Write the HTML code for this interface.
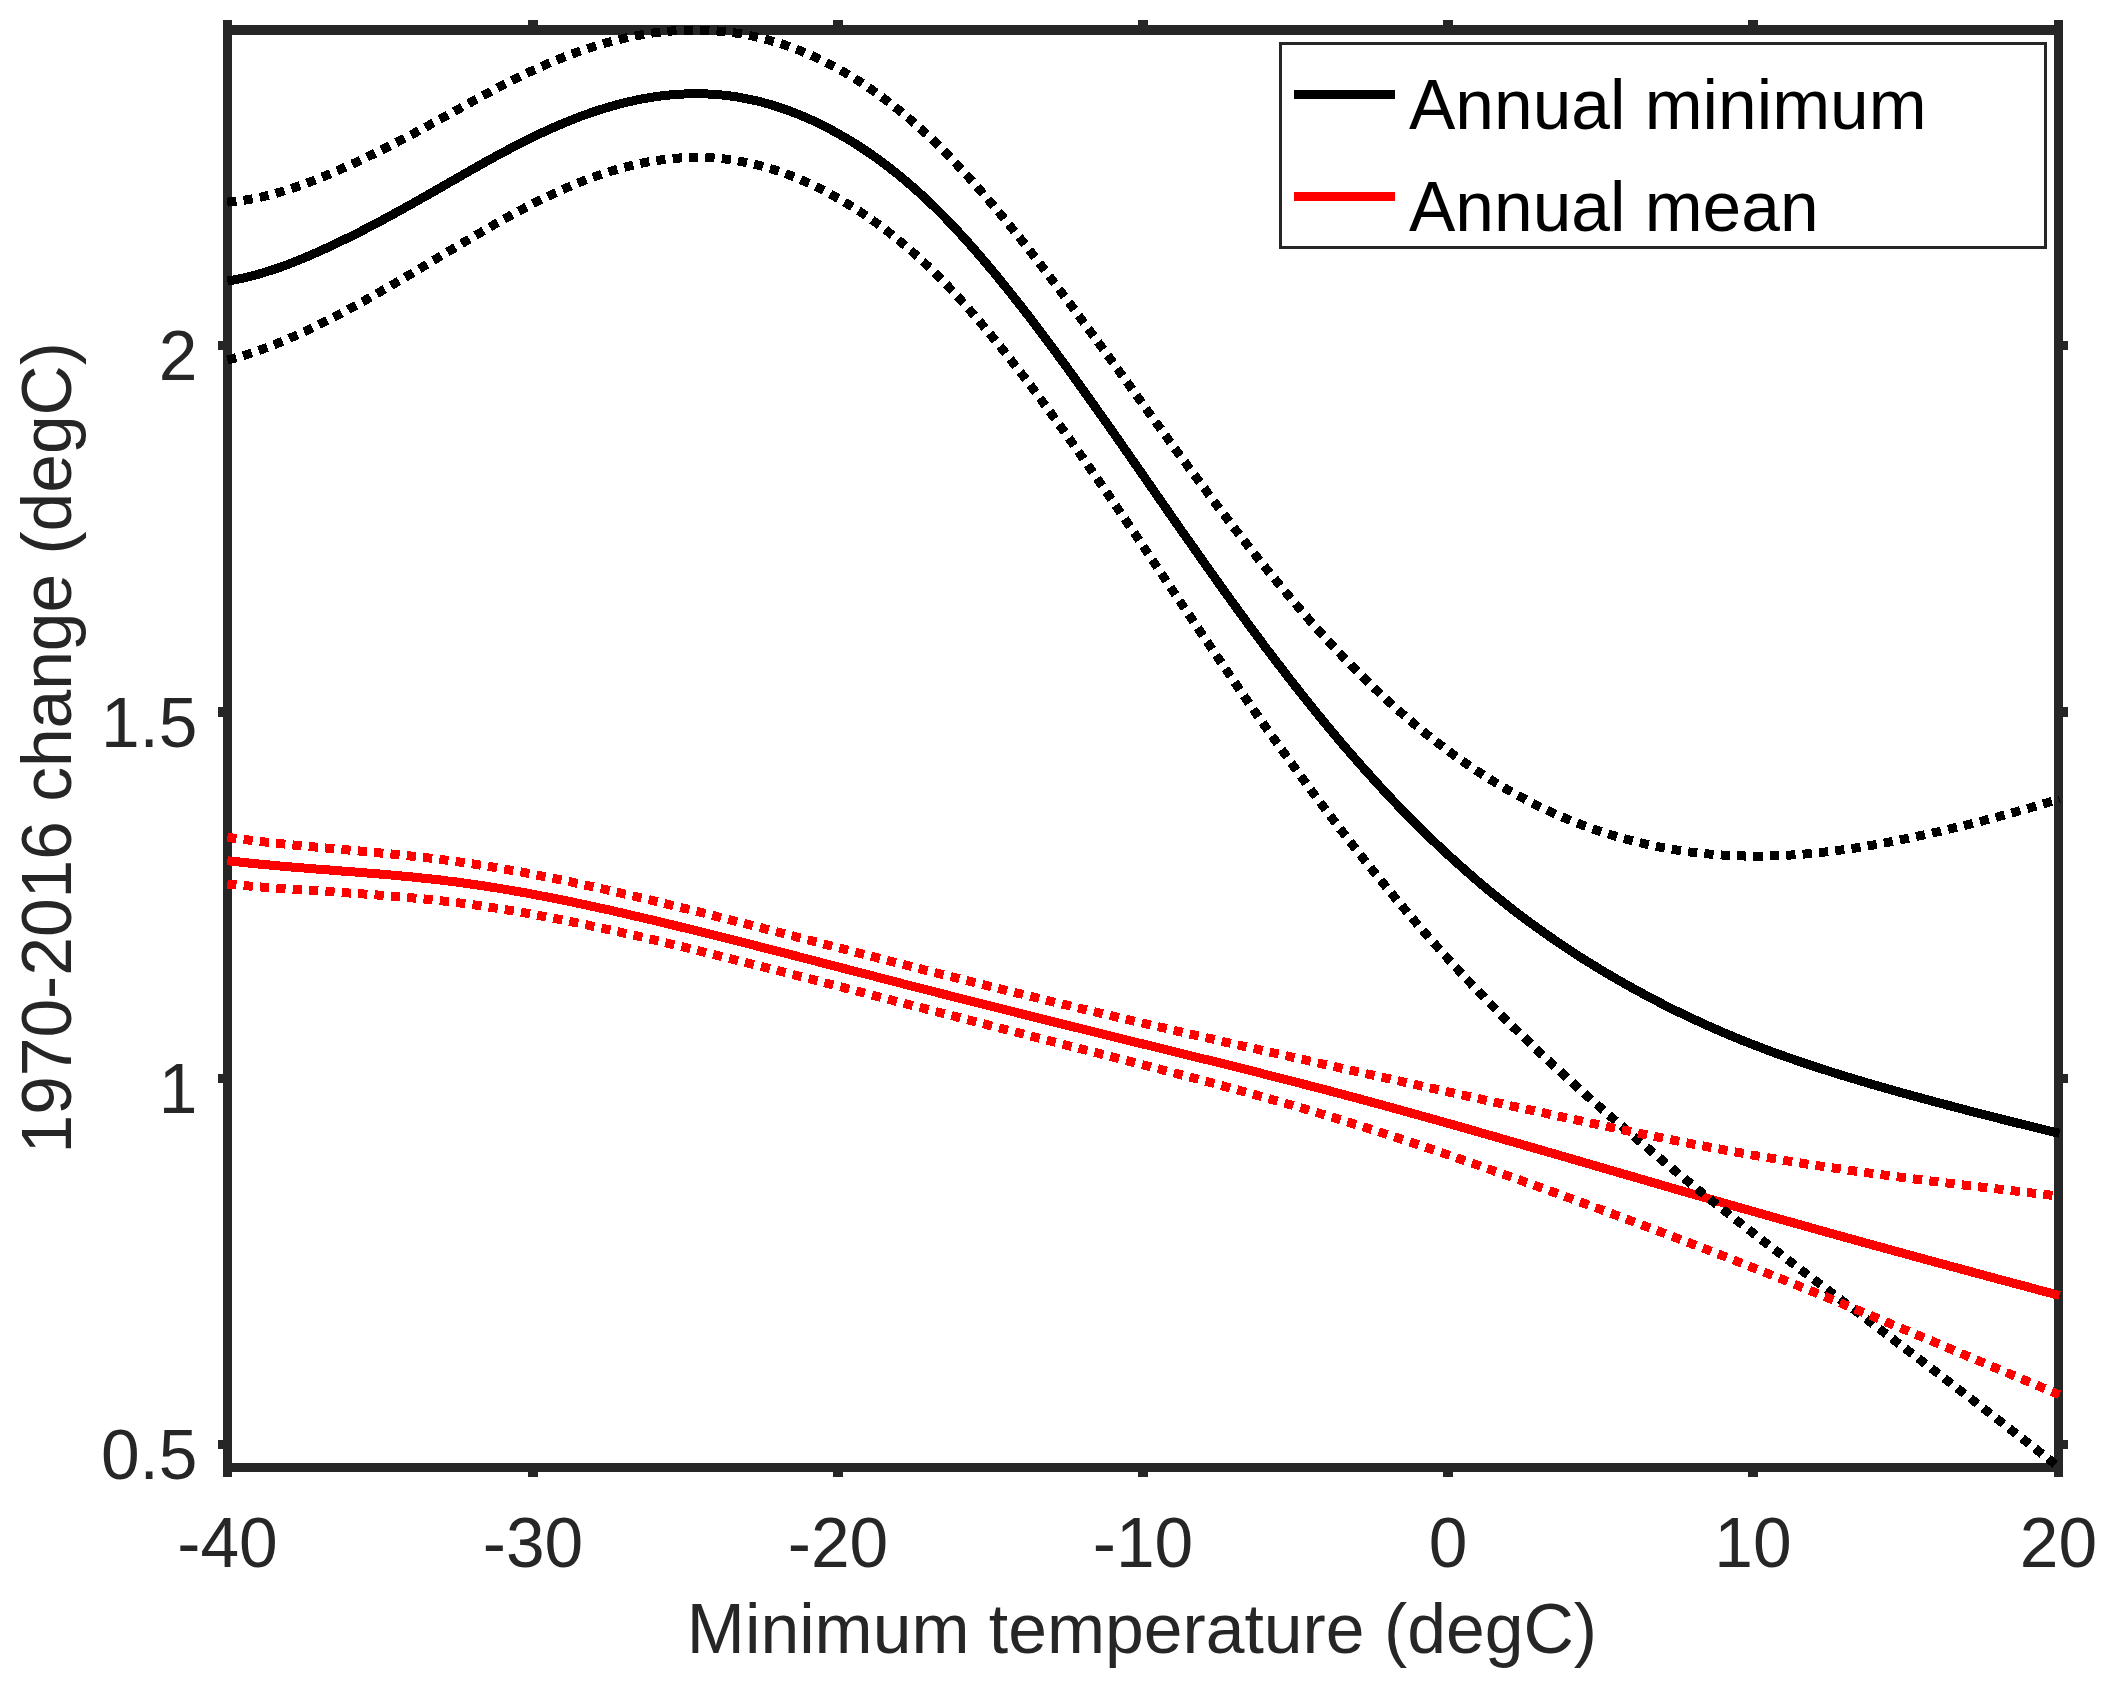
<!DOCTYPE html>
<html lang="en">
<head>
<meta charset="utf-8">
<title>1970-2016 change vs minimum temperature</title>
<style>
  html, body { margin: 0; padding: 0; background: #fff; }
  body { width: 2109px; height: 1688px; overflow: hidden; }
  svg { display: block; }
  text { font-family: "Liberation Sans", sans-serif; font-size: 69.5px; fill: #262626; }
  .legend text { fill: #000; }
</style>
</head>
<body>
<svg width="2109" height="1688" viewBox="0 0 2109 1688">
  <rect x="0" y="0" width="2109" height="1688" fill="#fff"/>

  <!-- axes box and tick marks -->
  <g fill="#262626" shape-rendering="crispEdges">
    <rect x="223" y="25" width="1840" height="9.6"/>
    <rect x="223" y="1463" width="1840" height="9"/>
    <rect x="223" y="25" width="9" height="1447"/>
    <rect x="2054" y="25" width="9" height="1447"/>
    <rect x="223" y="20" width="9" height="6"/><rect x="223" y="1471" width="9" height="6"/><rect x="528" y="20" width="10" height="6"/><rect x="528" y="1471" width="10" height="6"/><rect x="833" y="20" width="10" height="6"/><rect x="833" y="1471" width="10" height="6"/><rect x="1138" y="20" width="10" height="6"/><rect x="1138" y="1471" width="10" height="6"/><rect x="1443" y="20" width="10" height="6"/><rect x="1443" y="1471" width="10" height="6"/><rect x="1748" y="20" width="10" height="6"/><rect x="1748" y="1471" width="10" height="6"/><rect x="2054" y="20" width="9" height="6"/><rect x="2054" y="1471" width="9" height="6"/><rect x="218" y="341" width="6" height="9"/><rect x="2062" y="341" width="6" height="9"/><rect x="218" y="707" width="6" height="10"/><rect x="2062" y="707" width="6" height="10"/><rect x="218" y="1074" width="6" height="9"/><rect x="2062" y="1074" width="6" height="9"/><rect x="218" y="1440" width="6" height="9"/><rect x="2062" y="1440" width="6" height="9"/>
  </g>

  <!-- data curves -->
  <g fill="none" stroke-width="9" stroke-linecap="butt" stroke-linejoin="round" shape-rendering="crispEdges">
    <path d="M227.3 281.1L233.3 280.1L239.3 278.9L245.3 277.5L251.3 276.1L257.3 274.5L263.3 272.7L269.4 270.8L275.4 268.9L281.4 266.8L287.4 264.6L293.4 262.3L299.4 259.9L305.4 257.4L311.4 254.8L317.4 252.2L323.4 249.5L329.4 246.7L335.4 243.9L341.4 241.0L347.4 238.1L353.5 235.1L359.5 232.1L365.5 229.0L371.5 225.8L377.5 222.7L383.5 219.5L389.5 216.2L395.5 213.0L401.5 209.7L407.5 206.3L413.5 203.0L419.5 199.6L425.5 196.2L431.5 192.8L437.6 189.3L443.6 185.9L449.6 182.4L455.6 179.0L461.6 175.5L467.6 172.1L473.6 168.7L479.6 165.3L485.6 161.9L491.6 158.6L497.6 155.3L503.6 152.1L509.6 148.9L515.6 145.7L521.7 142.6L527.7 139.6L533.7 136.7L539.7 133.8L545.7 131.0L551.7 128.3L557.7 125.7L563.7 123.1L569.7 120.7L575.7 118.3L581.7 116.0L587.7 113.9L593.7 111.8L599.7 109.8L605.8 108.0L611.8 106.2L617.8 104.5L623.8 103.0L629.8 101.5L635.8 100.2L641.8 99.0L647.8 97.9L653.8 97.0L659.8 96.1L665.8 95.4L671.8 94.8L677.8 94.4L683.8 94.0L689.9 93.8L695.9 93.7L701.9 93.8L707.9 94.0L713.9 94.3L719.9 94.8L725.9 95.4L731.9 96.2L737.9 97.1L743.9 98.2L749.9 99.4L755.9 100.7L761.9 102.2L767.9 103.9L774.0 105.6L780.0 107.6L786.0 109.6L792.0 111.9L798.0 114.2L804.0 116.7L810.0 119.3L816.0 122.1L822.0 125.0L828.0 128.1L834.0 131.3L840.0 134.7L846.0 138.1L852.1 141.8L858.1 145.5L864.1 149.5L870.1 153.5L876.1 157.8L882.1 162.2L888.1 166.7L894.1 171.4L900.1 176.2L906.1 181.2L912.1 186.4L918.1 191.7L924.1 197.2L930.1 202.9L936.2 208.7L942.2 214.7L948.2 220.9L954.2 227.2L960.2 233.7L966.2 240.3L972.2 247.0L978.2 253.9L984.2 260.9L990.2 268.1L996.2 275.3L1002.2 282.7L1008.2 290.1L1014.2 297.7L1020.3 305.3L1026.3 313.1L1032.3 320.9L1038.3 328.8L1044.3 336.8L1050.3 344.9L1056.3 353.0L1062.3 361.2L1068.3 369.4L1074.3 377.7L1080.3 386.1L1086.3 394.5L1092.3 402.9L1098.3 411.4L1104.4 419.9L1110.4 428.4L1116.4 437.0L1122.4 445.6L1128.4 454.2L1134.4 462.8L1140.4 471.4L1146.4 480.1L1152.4 488.7L1158.4 497.4L1164.4 506.0L1170.4 514.7L1176.4 523.3L1182.4 531.9L1188.5 540.5L1194.5 549.0L1200.5 557.6L1206.5 566.1L1212.5 574.5L1218.5 583.0L1224.5 591.4L1230.5 599.7L1236.5 608.0L1242.5 616.2L1248.5 624.4L1254.5 632.6L1260.5 640.6L1266.5 648.7L1272.6 656.6L1278.6 664.5L1284.6 672.3L1290.6 680.1L1296.6 687.8L1302.6 695.4L1308.6 702.9L1314.6 710.4L1320.6 717.8L1326.6 725.1L1332.6 732.3L1338.6 739.5L1344.6 746.6L1350.6 753.5L1356.7 760.4L1362.7 767.3L1368.7 774.0L1374.7 780.6L1380.7 787.2L1386.7 793.7L1392.7 800.1L1398.7 806.4L1404.7 812.6L1410.7 818.7L1416.7 824.7L1422.7 830.7L1428.7 836.6L1434.7 842.3L1440.8 848.0L1446.8 853.6L1452.8 859.1L1458.8 864.5L1464.8 869.9L1470.8 875.1L1476.8 880.3L1482.8 885.4L1488.8 890.4L1494.8 895.3L1500.8 900.1L1506.8 904.9L1512.8 909.6L1518.9 914.2L1524.9 918.7L1530.9 923.2L1536.9 927.5L1542.9 931.8L1548.9 936.1L1554.9 940.2L1560.9 944.3L1566.9 948.3L1572.9 952.3L1578.9 956.2L1584.9 960.0L1590.9 963.7L1596.9 967.4L1603.0 971.1L1609.0 974.6L1615.0 978.1L1621.0 981.6L1627.0 985.0L1633.0 988.3L1639.0 991.6L1645.0 994.9L1651.0 998.1L1657.0 1001.2L1663.0 1004.3L1669.0 1007.3L1675.0 1010.3L1681.0 1013.2L1687.1 1016.1L1693.1 1018.9L1699.1 1021.7L1705.1 1024.5L1711.1 1027.1L1717.1 1029.8L1723.1 1032.4L1729.1 1034.9L1735.1 1037.4L1741.1 1039.9L1747.1 1042.3L1753.1 1044.6L1759.1 1046.9L1765.1 1049.2L1771.2 1051.5L1777.2 1053.7L1783.2 1055.8L1789.2 1057.9L1795.2 1060.0L1801.2 1062.1L1807.2 1064.1L1813.2 1066.1L1819.2 1068.1L1825.2 1070.0L1831.2 1071.9L1837.2 1073.8L1843.2 1075.7L1849.2 1077.5L1855.3 1079.3L1861.3 1081.1L1867.3 1082.9L1873.3 1084.7L1879.3 1086.4L1885.3 1088.1L1891.3 1089.8L1897.3 1091.5L1903.3 1093.2L1909.3 1094.8L1915.3 1096.5L1921.3 1098.1L1927.3 1099.7L1933.3 1101.4L1939.4 1103.0L1945.4 1104.6L1951.4 1106.1L1957.4 1107.7L1963.4 1109.3L1969.4 1110.9L1975.4 1112.4L1981.4 1114.0L1987.4 1115.5L1993.4 1117.0L1999.4 1118.6L2005.4 1120.1L2011.4 1121.6L2017.4 1123.1L2023.5 1124.6L2029.5 1126.0L2035.5 1127.5L2041.5 1129.0L2047.5 1130.4L2053.5 1131.9L2059.5 1133.3" stroke="#000"/>
    <path d="M227.3 860.7L233.3 861.4L239.3 862.0L245.3 862.7L251.3 863.3L257.3 863.9L263.3 864.5L269.4 865.0L275.4 865.6L281.4 866.1L287.4 866.6L293.4 867.2L299.4 867.6L305.4 868.1L311.4 868.6L317.4 869.1L323.4 869.6L329.4 870.0L335.4 870.5L341.4 871.0L347.4 871.4L353.5 871.9L359.5 872.4L365.5 872.9L371.5 873.3L377.5 873.8L383.5 874.4L389.5 874.9L395.5 875.4L401.5 876.0L407.5 876.6L413.5 877.1L419.5 877.8L425.5 878.4L431.5 879.0L437.6 879.7L443.6 880.4L449.6 881.2L455.6 881.9L461.6 882.7L467.6 883.6L473.6 884.4L479.6 885.3L485.6 886.2L491.6 887.2L497.6 888.1L503.6 889.1L509.6 890.1L515.6 891.2L521.7 892.2L527.7 893.3L533.7 894.4L539.7 895.6L545.7 896.7L551.7 897.9L557.7 899.1L563.7 900.3L569.7 901.5L575.7 902.8L581.7 904.1L587.7 905.3L593.7 906.6L599.7 908.0L605.8 909.3L611.8 910.6L617.8 912.0L623.8 913.4L629.8 914.8L635.8 916.2L641.8 917.6L647.8 919.0L653.8 920.4L659.8 921.8L665.8 923.3L671.8 924.7L677.8 926.2L683.8 927.7L689.9 929.1L695.9 930.6L701.9 932.1L707.9 933.6L713.9 935.1L719.9 936.6L725.9 938.1L731.9 939.6L737.9 941.2L743.9 942.7L749.9 944.2L755.9 945.7L761.9 947.3L767.9 948.8L774.0 950.4L780.0 951.9L786.0 953.4L792.0 955.0L798.0 956.5L804.0 958.1L810.0 959.7L816.0 961.2L822.0 962.8L828.0 964.3L834.0 965.9L840.0 967.5L846.0 969.0L852.1 970.6L858.1 972.1L864.1 973.7L870.1 975.2L876.1 976.8L882.1 978.4L888.1 979.9L894.1 981.5L900.1 983.0L906.1 984.6L912.1 986.1L918.1 987.6L924.1 989.2L930.1 990.7L936.2 992.3L942.2 993.8L948.2 995.3L954.2 996.9L960.2 998.4L966.2 999.9L972.2 1001.4L978.2 1003.0L984.2 1004.5L990.2 1006.0L996.2 1007.5L1002.2 1009.0L1008.2 1010.5L1014.2 1012.0L1020.3 1013.6L1026.3 1015.1L1032.3 1016.6L1038.3 1018.1L1044.3 1019.6L1050.3 1021.1L1056.3 1022.6L1062.3 1024.1L1068.3 1025.6L1074.3 1027.1L1080.3 1028.5L1086.3 1030.0L1092.3 1031.5L1098.3 1033.0L1104.4 1034.5L1110.4 1036.0L1116.4 1037.5L1122.4 1038.9L1128.4 1040.4L1134.4 1041.9L1140.4 1043.4L1146.4 1044.8L1152.4 1046.3L1158.4 1047.8L1164.4 1049.3L1170.4 1050.8L1176.4 1052.2L1182.4 1053.7L1188.5 1055.2L1194.5 1056.7L1200.5 1058.2L1206.5 1059.6L1212.5 1061.1L1218.5 1062.6L1224.5 1064.1L1230.5 1065.6L1236.5 1067.1L1242.5 1068.6L1248.5 1070.1L1254.5 1071.6L1260.5 1073.1L1266.5 1074.7L1272.6 1076.2L1278.6 1077.7L1284.6 1079.2L1290.6 1080.8L1296.6 1082.3L1302.6 1083.9L1308.6 1085.4L1314.6 1087.0L1320.6 1088.6L1326.6 1090.1L1332.6 1091.7L1338.6 1093.3L1344.6 1094.9L1350.6 1096.5L1356.7 1098.1L1362.7 1099.8L1368.7 1101.4L1374.7 1103.0L1380.7 1104.6L1386.7 1106.3L1392.7 1107.9L1398.7 1109.6L1404.7 1111.3L1410.7 1112.9L1416.7 1114.6L1422.7 1116.3L1428.7 1117.9L1434.7 1119.6L1440.8 1121.3L1446.8 1123.0L1452.8 1124.7L1458.8 1126.4L1464.8 1128.1L1470.8 1129.8L1476.8 1131.5L1482.8 1133.3L1488.8 1135.0L1494.8 1136.7L1500.8 1138.4L1506.8 1140.2L1512.8 1141.9L1518.9 1143.6L1524.9 1145.4L1530.9 1147.1L1536.9 1148.8L1542.9 1150.6L1548.9 1152.3L1554.9 1154.0L1560.9 1155.8L1566.9 1157.5L1572.9 1159.3L1578.9 1161.0L1584.9 1162.8L1590.9 1164.5L1596.9 1166.3L1603.0 1168.0L1609.0 1169.8L1615.0 1171.5L1621.0 1173.3L1627.0 1175.0L1633.0 1176.7L1639.0 1178.5L1645.0 1180.2L1651.0 1182.0L1657.0 1183.7L1663.0 1185.5L1669.0 1187.2L1675.0 1189.0L1681.0 1190.7L1687.1 1192.4L1693.1 1194.2L1699.1 1195.9L1705.1 1197.6L1711.1 1199.4L1717.1 1201.1L1723.1 1202.8L1729.1 1204.6L1735.1 1206.3L1741.1 1208.0L1747.1 1209.7L1753.1 1211.4L1759.1 1213.1L1765.1 1214.8L1771.2 1216.6L1777.2 1218.3L1783.2 1220.0L1789.2 1221.7L1795.2 1223.3L1801.2 1225.0L1807.2 1226.7L1813.2 1228.4L1819.2 1230.1L1825.2 1231.8L1831.2 1233.4L1837.2 1235.1L1843.2 1236.8L1849.2 1238.4L1855.3 1240.1L1861.3 1241.8L1867.3 1243.4L1873.3 1245.1L1879.3 1246.7L1885.3 1248.4L1891.3 1250.0L1897.3 1251.7L1903.3 1253.3L1909.3 1255.0L1915.3 1256.6L1921.3 1258.3L1927.3 1259.9L1933.3 1261.5L1939.4 1263.2L1945.4 1264.8L1951.4 1266.4L1957.4 1268.0L1963.4 1269.7L1969.4 1271.3L1975.4 1272.9L1981.4 1274.5L1987.4 1276.2L1993.4 1277.8L1999.4 1279.4L2005.4 1281.0L2011.4 1282.6L2017.4 1284.2L2023.5 1285.8L2029.5 1287.4L2035.5 1289.1L2041.5 1290.7L2047.5 1292.3L2053.5 1293.9L2059.5 1295.5" stroke="#f00"/>
    <path d="M227.3 202.1L233.3 201.6L239.3 201.0L245.3 200.1L251.3 199.1L257.3 197.9L263.3 196.6L269.4 195.1L275.4 193.5L281.4 191.7L287.4 189.9L293.4 187.9L299.4 185.8L305.4 183.7L311.4 181.4L317.4 179.0L323.4 176.6L329.4 174.1L335.4 171.5L341.4 168.9L347.4 166.2L353.5 163.5L359.5 160.7L365.5 157.8L371.5 155.0L377.5 152.0L383.5 149.0L389.5 146.0L395.5 143.0L401.5 139.9L407.5 136.7L413.5 133.6L419.5 130.4L425.5 127.2L431.5 123.9L437.6 120.6L443.6 117.3L449.6 114.0L455.6 110.7L461.6 107.4L467.6 104.1L473.6 100.8L479.6 97.5L485.6 94.3L491.6 91.1L497.6 87.9L503.6 84.8L509.6 81.7L515.6 78.7L521.7 75.7L527.7 72.8L533.7 70.0L539.7 67.3L545.7 64.6L551.7 62.1L557.7 59.6L563.7 57.2L569.7 54.9L575.7 52.7L581.7 50.6L587.7 48.5L593.7 46.6L599.7 44.8L605.8 43.0L611.8 41.4L617.8 39.9L623.8 38.5L629.8 37.1L635.8 35.9L641.8 34.8L647.8 33.8L653.8 32.9L659.8 32.2L665.8 31.5L671.8 31.0L677.8 30.6L683.8 30.3L689.9 30.1L695.9 30.1L701.9 30.1L707.9 30.3L713.9 30.7L719.9 31.2L725.9 31.8L731.9 32.5L737.9 33.4L743.9 34.4L749.9 35.6L755.9 36.8L761.9 38.3L767.9 39.9L774.0 41.6L780.0 43.4L786.0 45.4L792.0 47.6L798.0 49.8L804.0 52.3L810.0 54.8L816.0 57.6L822.0 60.4L828.0 63.4L834.0 66.6L840.0 69.9L846.0 73.3L852.1 76.9L858.1 80.6L864.1 84.5L870.1 88.6L876.1 92.7L882.1 97.1L888.1 101.6L894.1 106.3L900.1 111.1L906.1 116.0L912.1 121.2L918.1 126.5L924.1 131.9L930.1 137.5L936.2 143.3L942.2 149.3L948.2 155.4L954.2 161.6L960.2 168.0L966.2 174.5L972.2 181.2L978.2 188.0L984.2 194.9L990.2 201.9L996.2 209.0L1002.2 216.3L1008.2 223.6L1014.2 231.1L1020.3 238.6L1026.3 246.2L1032.3 253.9L1038.3 261.7L1044.3 269.5L1050.3 277.4L1056.3 285.4L1062.3 293.4L1068.3 301.5L1074.3 309.6L1080.3 317.8L1086.3 326.0L1092.3 334.2L1098.3 342.5L1104.4 350.7L1110.4 359.0L1116.4 367.4L1122.4 375.7L1128.4 384.0L1134.4 392.4L1140.4 400.7L1146.4 409.1L1152.4 417.4L1158.4 425.7L1164.4 434.0L1170.4 442.3L1176.4 450.6L1182.4 458.8L1188.5 467.0L1194.5 475.1L1200.5 483.3L1206.5 491.3L1212.5 499.4L1218.5 507.4L1224.5 515.3L1230.5 523.2L1236.5 531.0L1242.5 538.7L1248.5 546.4L1254.5 554.0L1260.5 561.6L1266.5 569.0L1272.6 576.4L1278.6 583.7L1284.6 591.0L1290.6 598.1L1296.6 605.2L1302.6 612.2L1308.6 619.1L1314.6 625.9L1320.6 632.6L1326.6 639.2L1332.6 645.7L1338.6 652.1L1344.6 658.4L1350.6 664.6L1356.7 670.7L1362.7 676.7L1368.7 682.6L1374.7 688.4L1380.7 694.1L1386.7 699.7L1392.7 705.2L1398.7 710.6L1404.7 715.9L1410.7 721.0L1416.7 726.1L1422.7 731.1L1428.7 735.9L1434.7 740.6L1440.8 745.3L1446.8 749.8L1452.8 754.2L1458.8 758.5L1464.8 762.7L1470.8 766.8L1476.8 770.8L1482.8 774.7L1488.8 778.5L1494.8 782.2L1500.8 785.8L1506.8 789.3L1512.8 792.7L1518.9 796.0L1524.9 799.2L1530.9 802.3L1536.9 805.3L1542.9 808.2L1548.9 811.0L1554.9 813.8L1560.9 816.4L1566.9 818.9L1572.9 821.4L1578.9 823.7L1584.9 826.0L1590.9 828.2L1596.9 830.3L1603.0 832.3L1609.0 834.2L1615.0 836.0L1621.0 837.8L1627.0 839.4L1633.0 841.0L1639.0 842.5L1645.0 843.9L1651.0 845.3L1657.0 846.5L1663.0 847.7L1669.0 848.8L1675.0 849.8L1681.0 850.7L1687.1 851.6L1693.1 852.4L1699.1 853.1L1705.1 853.7L1711.1 854.2L1717.1 854.7L1723.1 855.1L1729.1 855.5L1735.1 855.7L1741.1 855.9L1747.1 856.1L1753.1 856.1L1759.1 856.1L1765.1 856.0L1771.2 855.9L1777.2 855.7L1783.2 855.5L1789.2 855.1L1795.2 854.8L1801.2 854.3L1807.2 853.8L1813.2 853.3L1819.2 852.7L1825.2 852.0L1831.2 851.3L1837.2 850.6L1843.2 849.7L1849.2 848.9L1855.3 848.0L1861.3 847.0L1867.3 846.1L1873.3 845.0L1879.3 844.0L1885.3 842.9L1891.3 841.7L1897.3 840.5L1903.3 839.3L1909.3 838.1L1915.3 836.8L1921.3 835.5L1927.3 834.2L1933.3 832.8L1939.4 831.5L1945.4 830.1L1951.4 828.6L1957.4 827.2L1963.4 825.7L1969.4 824.2L1975.4 822.7L1981.4 821.2L1987.4 819.6L1993.4 818.0L1999.4 816.4L2005.4 814.8L2011.4 813.1L2017.4 811.4L2023.5 809.7L2029.5 808.0L2035.5 806.2L2041.5 804.5L2047.5 802.7L2053.5 800.9L2059.5 799.0" stroke="#000" stroke-dasharray="9.2 7.2"/>
    <path d="M227.3 360.1L233.3 358.5L239.3 356.8L245.3 355.0L251.3 353.1L257.3 351.0L263.3 348.8L269.4 346.6L275.4 344.2L281.4 341.8L287.4 339.3L293.4 336.6L299.4 333.9L305.4 331.2L311.4 328.3L317.4 325.4L323.4 322.4L329.4 319.4L335.4 316.3L341.4 313.1L347.4 309.9L353.5 306.7L359.5 303.4L365.5 300.1L371.5 296.7L377.5 293.3L383.5 289.9L389.5 286.4L395.5 283.0L401.5 279.4L407.5 275.9L413.5 272.4L419.5 268.8L425.5 265.2L431.5 261.6L437.6 258.0L443.6 254.4L449.6 250.8L455.6 247.3L461.6 243.7L467.6 240.1L473.6 236.6L479.6 233.1L485.6 229.6L491.6 226.1L497.6 222.7L503.6 219.3L509.6 216.0L515.6 212.8L521.7 209.5L527.7 206.4L533.7 203.3L539.7 200.3L545.7 197.4L551.7 194.5L557.7 191.8L563.7 189.1L569.7 186.5L575.7 184.0L581.7 181.5L587.7 179.2L593.7 177.0L599.7 174.9L605.8 172.9L611.8 171.0L617.8 169.2L623.8 167.5L629.8 166.0L635.8 164.5L641.8 163.2L647.8 162.0L653.8 161.0L659.8 160.1L665.8 159.3L671.8 158.6L677.8 158.1L683.8 157.8L689.9 157.5L695.9 157.4L701.9 157.5L707.9 157.7L713.9 158.0L719.9 158.5L725.9 159.1L731.9 159.9L737.9 160.9L743.9 162.0L749.9 163.2L755.9 164.6L761.9 166.2L767.9 167.9L774.0 169.7L780.0 171.7L786.0 173.9L792.0 176.1L798.0 178.6L804.0 181.1L810.0 183.8L816.0 186.7L822.0 189.7L828.0 192.8L834.0 196.1L840.0 199.4L846.0 203.0L852.1 206.7L858.1 210.5L864.1 214.4L870.1 218.5L876.1 222.8L882.1 227.2L888.1 231.8L894.1 236.5L900.1 241.4L906.1 246.4L912.1 251.6L918.1 257.0L924.1 262.6L930.1 268.3L936.2 274.2L942.2 280.2L948.2 286.5L954.2 292.8L960.2 299.4L966.2 306.1L972.2 312.9L978.2 319.9L984.2 327.0L990.2 334.2L996.2 341.6L1002.2 349.0L1008.2 356.6L1014.2 364.3L1020.3 372.1L1026.3 380.0L1032.3 387.9L1038.3 396.0L1044.3 404.1L1050.3 412.3L1056.3 420.6L1062.3 428.9L1068.3 437.3L1074.3 445.8L1080.3 454.4L1086.3 462.9L1092.3 471.6L1098.3 480.3L1104.4 489.0L1110.4 497.8L1116.4 506.6L1122.4 515.4L1128.4 524.3L1134.4 533.2L1140.4 542.1L1146.4 551.1L1152.4 560.1L1158.4 569.0L1164.4 578.0L1170.4 587.0L1176.4 596.0L1182.4 605.0L1188.5 614.0L1194.5 622.9L1200.5 631.9L1206.5 640.8L1212.5 649.7L1218.5 658.6L1224.5 667.4L1230.5 676.3L1236.5 685.0L1242.5 693.8L1248.5 702.5L1254.5 711.1L1260.5 719.7L1266.5 728.3L1272.6 736.8L1278.6 745.3L1284.6 753.7L1290.6 762.0L1296.6 770.4L1302.6 778.6L1308.6 786.8L1314.6 794.9L1320.6 803.0L1326.6 811.0L1332.6 819.0L1338.6 826.9L1344.6 834.7L1350.6 842.4L1356.7 850.1L1362.7 857.8L1368.7 865.3L1374.7 872.8L1380.7 880.2L1386.7 887.6L1392.7 894.9L1398.7 902.1L1404.7 909.3L1410.7 916.4L1416.7 923.4L1422.7 930.3L1428.7 937.2L1434.7 944.0L1440.8 950.7L1446.8 957.4L1452.8 964.0L1458.8 970.5L1464.8 977.0L1470.8 983.4L1476.8 989.8L1482.8 996.0L1488.8 1002.2L1494.8 1008.4L1500.8 1014.5L1506.8 1020.5L1512.8 1026.5L1518.9 1032.4L1524.9 1038.2L1530.9 1044.0L1536.9 1049.8L1542.9 1055.5L1548.9 1061.1L1554.9 1066.7L1560.9 1072.2L1566.9 1077.7L1572.9 1083.2L1578.9 1088.6L1584.9 1093.9L1590.9 1099.3L1596.9 1104.6L1603.0 1109.8L1609.0 1115.1L1615.0 1120.3L1621.0 1125.4L1627.0 1130.6L1633.0 1135.7L1639.0 1140.8L1645.0 1145.8L1651.0 1150.9L1657.0 1155.9L1663.0 1160.9L1669.0 1165.9L1675.0 1170.8L1681.0 1175.8L1687.1 1180.7L1693.1 1185.5L1699.1 1190.4L1705.1 1195.2L1711.1 1200.1L1717.1 1204.8L1723.1 1209.6L1729.1 1214.4L1735.1 1219.1L1741.1 1223.8L1747.1 1228.5L1753.1 1233.1L1759.1 1237.8L1765.1 1242.4L1771.2 1247.0L1777.2 1251.6L1783.2 1256.2L1789.2 1260.7L1795.2 1265.3L1801.2 1269.9L1807.2 1274.4L1813.2 1278.9L1819.2 1283.5L1825.2 1288.0L1831.2 1292.5L1837.2 1297.1L1843.2 1301.6L1849.2 1306.1L1855.3 1310.7L1861.3 1315.2L1867.3 1319.7L1873.3 1324.3L1879.3 1328.8L1885.3 1333.4L1891.3 1337.9L1897.3 1342.5L1903.3 1347.0L1909.3 1351.6L1915.3 1356.1L1921.3 1360.7L1927.3 1365.3L1933.3 1369.9L1939.4 1374.5L1945.4 1379.1L1951.4 1383.7L1957.4 1388.3L1963.4 1392.9L1969.4 1397.5L1975.4 1402.1L1981.4 1406.8L1987.4 1411.4L1993.4 1416.1L1999.4 1420.7L2005.4 1425.4L2011.4 1430.1L2017.4 1434.7L2023.5 1439.4L2029.5 1444.1L2035.5 1448.8L2041.5 1453.5L2047.5 1458.2L2053.5 1462.9L2059.5 1467.6" stroke="#000" stroke-dasharray="9.2 7.2"/>
    <path d="M227.3 837.3L233.3 838.1L239.3 838.9L245.3 839.6L251.3 840.4L257.3 841.1L263.3 841.8L269.4 842.5L275.4 843.1L281.4 843.7L287.4 844.4L293.4 845.0L299.4 845.5L305.4 846.1L311.4 846.7L317.4 847.2L323.4 847.8L329.4 848.3L335.4 848.9L341.4 849.4L347.4 849.9L353.5 850.5L359.5 851.0L365.5 851.6L371.5 852.1L377.5 852.7L383.5 853.3L389.5 853.8L395.5 854.4L401.5 855.0L407.5 855.7L413.5 856.3L419.5 857.0L425.5 857.6L431.5 858.3L437.6 859.1L443.6 859.8L449.6 860.6L455.6 861.4L461.6 862.3L467.6 863.1L473.6 864.0L479.6 865.0L485.6 865.9L491.6 866.9L497.6 867.9L503.6 868.9L509.6 870.0L515.6 871.0L521.7 872.1L527.7 873.3L533.7 874.4L539.7 875.6L545.7 876.8L551.7 878.0L557.7 879.2L563.7 880.4L569.7 881.7L575.7 883.0L581.7 884.3L587.7 885.6L593.7 886.9L599.7 888.3L605.8 889.6L611.8 891.0L617.8 892.4L623.8 893.8L629.8 895.2L635.8 896.6L641.8 898.0L647.8 899.4L653.8 900.9L659.8 902.3L665.8 903.8L671.8 905.3L677.8 906.8L683.8 908.2L689.9 909.7L695.9 911.2L701.9 912.7L707.9 914.2L713.9 915.7L719.9 917.3L725.9 918.8L731.9 920.3L737.9 921.8L743.9 923.4L749.9 924.9L755.9 926.4L761.9 928.0L767.9 929.5L774.0 931.1L780.0 932.6L786.0 934.2L792.0 935.7L798.0 937.3L804.0 938.8L810.0 940.4L816.0 942.0L822.0 943.5L828.0 945.1L834.0 946.6L840.0 948.2L846.0 949.7L852.1 951.3L858.1 952.9L864.1 954.4L870.1 956.0L876.1 957.5L882.1 959.1L888.1 960.6L894.1 962.2L900.1 963.7L906.1 965.2L912.1 966.8L918.1 968.3L924.1 969.8L930.1 971.3L936.2 972.9L942.2 974.4L948.2 975.9L954.2 977.4L960.2 978.9L966.2 980.4L972.2 981.9L978.2 983.4L984.2 984.9L990.2 986.4L996.2 987.9L1002.2 989.4L1008.2 990.9L1014.2 992.4L1020.3 993.8L1026.3 995.3L1032.3 996.8L1038.3 998.2L1044.3 999.7L1050.3 1001.2L1056.3 1002.6L1062.3 1004.1L1068.3 1005.5L1074.3 1007.0L1080.3 1008.4L1086.3 1009.8L1092.3 1011.3L1098.3 1012.7L1104.4 1014.1L1110.4 1015.5L1116.4 1016.9L1122.4 1018.4L1128.4 1019.8L1134.4 1021.2L1140.4 1022.6L1146.4 1024.0L1152.4 1025.4L1158.4 1026.7L1164.4 1028.1L1170.4 1029.5L1176.4 1030.9L1182.4 1032.3L1188.5 1033.7L1194.5 1035.0L1200.5 1036.4L1206.5 1037.8L1212.5 1039.1L1218.5 1040.5L1224.5 1041.9L1230.5 1043.2L1236.5 1044.6L1242.5 1045.9L1248.5 1047.3L1254.5 1048.6L1260.5 1050.0L1266.5 1051.3L1272.6 1052.7L1278.6 1054.0L1284.6 1055.4L1290.6 1056.7L1296.6 1058.1L1302.6 1059.4L1308.6 1060.8L1314.6 1062.1L1320.6 1063.5L1326.6 1064.8L1332.6 1066.1L1338.6 1067.5L1344.6 1068.8L1350.6 1070.2L1356.7 1071.5L1362.7 1072.9L1368.7 1074.2L1374.7 1075.5L1380.7 1076.9L1386.7 1078.2L1392.7 1079.6L1398.7 1080.9L1404.7 1082.2L1410.7 1083.6L1416.7 1084.9L1422.7 1086.3L1428.7 1087.6L1434.7 1088.9L1440.8 1090.3L1446.8 1091.6L1452.8 1092.9L1458.8 1094.3L1464.8 1095.6L1470.8 1096.9L1476.8 1098.3L1482.8 1099.6L1488.8 1100.9L1494.8 1102.2L1500.8 1103.5L1506.8 1104.9L1512.8 1106.2L1518.9 1107.5L1524.9 1108.8L1530.9 1110.1L1536.9 1111.4L1542.9 1112.7L1548.9 1114.1L1554.9 1115.4L1560.9 1116.7L1566.9 1118.0L1572.9 1119.3L1578.9 1120.5L1584.9 1121.8L1590.9 1123.1L1596.9 1124.4L1603.0 1125.7L1609.0 1127.0L1615.0 1128.2L1621.0 1129.5L1627.0 1130.7L1633.0 1132.0L1639.0 1133.2L1645.0 1134.5L1651.0 1135.7L1657.0 1136.9L1663.0 1138.1L1669.0 1139.3L1675.0 1140.5L1681.0 1141.7L1687.1 1142.9L1693.1 1144.1L1699.1 1145.2L1705.1 1146.4L1711.1 1147.5L1717.1 1148.6L1723.1 1149.8L1729.1 1150.9L1735.1 1152.0L1741.1 1153.0L1747.1 1154.1L1753.1 1155.2L1759.1 1156.2L1765.1 1157.2L1771.2 1158.2L1777.2 1159.2L1783.2 1160.2L1789.2 1161.2L1795.2 1162.2L1801.2 1163.1L1807.2 1164.1L1813.2 1165.0L1819.2 1165.9L1825.2 1166.8L1831.2 1167.7L1837.2 1168.5L1843.2 1169.4L1849.2 1170.3L1855.3 1171.1L1861.3 1171.9L1867.3 1172.8L1873.3 1173.6L1879.3 1174.4L1885.3 1175.2L1891.3 1176.0L1897.3 1176.8L1903.3 1177.6L1909.3 1178.3L1915.3 1179.1L1921.3 1179.8L1927.3 1180.6L1933.3 1181.3L1939.4 1182.1L1945.4 1182.8L1951.4 1183.5L1957.4 1184.3L1963.4 1185.0L1969.4 1185.7L1975.4 1186.4L1981.4 1187.1L1987.4 1187.8L1993.4 1188.5L1999.4 1189.2L2005.4 1189.9L2011.4 1190.6L2017.4 1191.3L2023.5 1192.0L2029.5 1192.7L2035.5 1193.4L2041.5 1194.1L2047.5 1194.8L2053.5 1195.5L2059.5 1196.2" stroke="#f00" stroke-dasharray="9.2 7.2"/>
    <path d="M227.3 884.1L233.3 884.6L239.3 885.2L245.3 885.7L251.3 886.2L257.3 886.7L263.3 887.2L269.4 887.6L275.4 888.1L281.4 888.5L287.4 888.9L293.4 889.3L299.4 889.8L305.4 890.1L311.4 890.5L317.4 890.9L323.4 891.3L329.4 891.7L335.4 892.1L341.4 892.5L347.4 892.9L353.5 893.3L359.5 893.7L365.5 894.1L371.5 894.6L377.5 895.0L383.5 895.5L389.5 895.9L395.5 896.4L401.5 896.9L407.5 897.4L413.5 898.0L419.5 898.6L425.5 899.1L431.5 899.8L437.6 900.4L443.6 901.1L449.6 901.8L455.6 902.5L461.6 903.2L467.6 904.0L473.6 904.8L479.6 905.7L485.6 906.6L491.6 907.5L497.6 908.4L503.6 909.3L509.6 910.3L515.6 911.3L521.7 912.4L527.7 913.4L533.7 914.5L539.7 915.6L545.7 916.7L551.7 917.8L557.7 919.0L563.7 920.2L569.7 921.4L575.7 922.6L581.7 923.9L587.7 925.1L593.7 926.4L599.7 927.7L605.8 929.0L611.8 930.3L617.8 931.6L623.8 933.0L629.8 934.4L635.8 935.7L641.8 937.1L647.8 938.5L653.8 939.9L659.8 941.3L665.8 942.8L671.8 944.2L677.8 945.6L683.8 947.1L689.9 948.6L695.9 950.0L701.9 951.5L707.9 953.0L713.9 954.5L719.9 956.0L725.9 957.5L731.9 959.0L737.9 960.5L743.9 962.0L749.9 963.5L755.9 965.0L761.9 966.6L767.9 968.1L774.0 969.6L780.0 971.2L786.0 972.7L792.0 974.3L798.0 975.8L804.0 977.4L810.0 978.9L816.0 980.5L822.0 982.0L828.0 983.6L834.0 985.1L840.0 986.7L846.0 988.3L852.1 989.8L858.1 991.4L864.1 993.0L870.1 994.5L876.1 996.1L882.1 997.6L888.1 999.2L894.1 1000.8L900.1 1002.3L906.1 1003.9L912.1 1005.4L918.1 1007.0L924.1 1008.5L930.1 1010.1L936.2 1011.6L942.2 1013.2L948.2 1014.7L954.2 1016.3L960.2 1017.8L966.2 1019.4L972.2 1020.9L978.2 1022.5L984.2 1024.0L990.2 1025.6L996.2 1027.1L1002.2 1028.6L1008.2 1030.2L1014.2 1031.7L1020.3 1033.3L1026.3 1034.8L1032.3 1036.4L1038.3 1037.9L1044.3 1039.4L1050.3 1041.0L1056.3 1042.5L1062.3 1044.1L1068.3 1045.6L1074.3 1047.1L1080.3 1048.7L1086.3 1050.2L1092.3 1051.8L1098.3 1053.3L1104.4 1054.9L1110.4 1056.4L1116.4 1058.0L1122.4 1059.5L1128.4 1061.1L1134.4 1062.6L1140.4 1064.2L1146.4 1065.7L1152.4 1067.3L1158.4 1068.8L1164.4 1070.4L1170.4 1072.0L1176.4 1073.6L1182.4 1075.1L1188.5 1076.7L1194.5 1078.3L1200.5 1079.9L1206.5 1081.5L1212.5 1083.1L1218.5 1084.7L1224.5 1086.4L1230.5 1088.0L1236.5 1089.6L1242.5 1091.3L1248.5 1092.9L1254.5 1094.6L1260.5 1096.3L1266.5 1098.0L1272.6 1099.7L1278.6 1101.4L1284.6 1103.1L1290.6 1104.8L1296.6 1106.6L1302.6 1108.3L1308.6 1110.1L1314.6 1111.9L1320.6 1113.7L1326.6 1115.5L1332.6 1117.3L1338.6 1119.2L1344.6 1121.0L1350.6 1122.9L1356.7 1124.8L1362.7 1126.7L1368.7 1128.6L1374.7 1130.5L1380.7 1132.4L1386.7 1134.4L1392.7 1136.3L1398.7 1138.3L1404.7 1140.3L1410.7 1142.3L1416.7 1144.3L1422.7 1146.3L1428.7 1148.3L1434.7 1150.3L1440.8 1152.4L1446.8 1154.4L1452.8 1156.5L1458.8 1158.6L1464.8 1160.7L1470.8 1162.7L1476.8 1164.8L1482.8 1166.9L1488.8 1169.1L1494.8 1171.2L1500.8 1173.3L1506.8 1175.4L1512.8 1177.6L1518.9 1179.7L1524.9 1181.9L1530.9 1184.0L1536.9 1186.2L1542.9 1188.4L1548.9 1190.6L1554.9 1192.7L1560.9 1194.9L1566.9 1197.1L1572.9 1199.3L1578.9 1201.5L1584.9 1203.7L1590.9 1205.9L1596.9 1208.1L1603.0 1210.3L1609.0 1212.6L1615.0 1214.8L1621.0 1217.0L1627.0 1219.3L1633.0 1221.5L1639.0 1223.8L1645.0 1226.0L1651.0 1228.3L1657.0 1230.5L1663.0 1232.8L1669.0 1235.1L1675.0 1237.4L1681.0 1239.7L1687.1 1242.0L1693.1 1244.3L1699.1 1246.6L1705.1 1248.9L1711.1 1251.2L1717.1 1253.6L1723.1 1255.9L1729.1 1258.2L1735.1 1260.6L1741.1 1263.0L1747.1 1265.3L1753.1 1267.7L1759.1 1270.1L1765.1 1272.5L1771.2 1274.9L1777.2 1277.3L1783.2 1279.7L1789.2 1282.1L1795.2 1284.5L1801.2 1287.0L1807.2 1289.4L1813.2 1291.8L1819.2 1294.3L1825.2 1296.7L1831.2 1299.2L1837.2 1301.7L1843.2 1304.1L1849.2 1306.6L1855.3 1309.1L1861.3 1311.6L1867.3 1314.1L1873.3 1316.6L1879.3 1319.1L1885.3 1321.6L1891.3 1324.1L1897.3 1326.6L1903.3 1329.1L1909.3 1331.6L1915.3 1334.2L1921.3 1336.7L1927.3 1339.2L1933.3 1341.7L1939.4 1344.2L1945.4 1346.8L1951.4 1349.3L1957.4 1351.8L1963.4 1354.4L1969.4 1356.9L1975.4 1359.4L1981.4 1362.0L1987.4 1364.5L1993.4 1367.0L1999.4 1369.6L2005.4 1372.1L2011.4 1374.6L2017.4 1377.1L2023.5 1379.7L2029.5 1382.2L2035.5 1384.7L2041.5 1387.2L2047.5 1389.8L2053.5 1392.3L2059.5 1394.8" stroke="#f00" stroke-dasharray="9.2 7.2"/>
  </g>

  <!-- tick labels -->
  <g><text x="227.5" y="1566.7" text-anchor="middle">-40</text><text x="533" y="1566.7" text-anchor="middle">-30</text><text x="838" y="1566.7" text-anchor="middle">-20</text><text x="1143" y="1566.7" text-anchor="middle">-10</text><text x="1448" y="1566.7" text-anchor="middle">0</text><text x="1753" y="1566.7" text-anchor="middle">10</text><text x="2058.5" y="1566.7" text-anchor="middle">20</text></g>
  <g><text x="197.5" y="380.2" text-anchor="end">2</text><text x="197.5" y="746.6" text-anchor="end">1.5</text><text x="197.5" y="1113.0" text-anchor="end">1</text><text x="197.5" y="1479.2" text-anchor="end">0.5</text></g>

  <!-- axis labels -->
  <text x="1141.9" y="1652.6" text-anchor="middle" style="font-size:69.7px">Minimum temperature (degC)</text>
  <text transform="translate(70.7 747.8) rotate(-90)" text-anchor="middle">1970-2016 change (degC)</text>

  <!-- legend -->
  <g class="legend">
    <rect x="1280.5" y="43.7" width="765.2" height="203.5" fill="#fff" stroke="#262626" stroke-width="2.8" shape-rendering="crispEdges"/>
    <rect x="1294" y="90" width="101" height="9" fill="#000" shape-rendering="crispEdges"/>
    <rect x="1294" y="192" width="101" height="9" fill="#f00" shape-rendering="crispEdges"/>
    <text x="1409" y="129">Annual minimum</text>
    <text x="1409" y="231">Annual mean</text>
  </g>
</svg>
</body>
</html>
